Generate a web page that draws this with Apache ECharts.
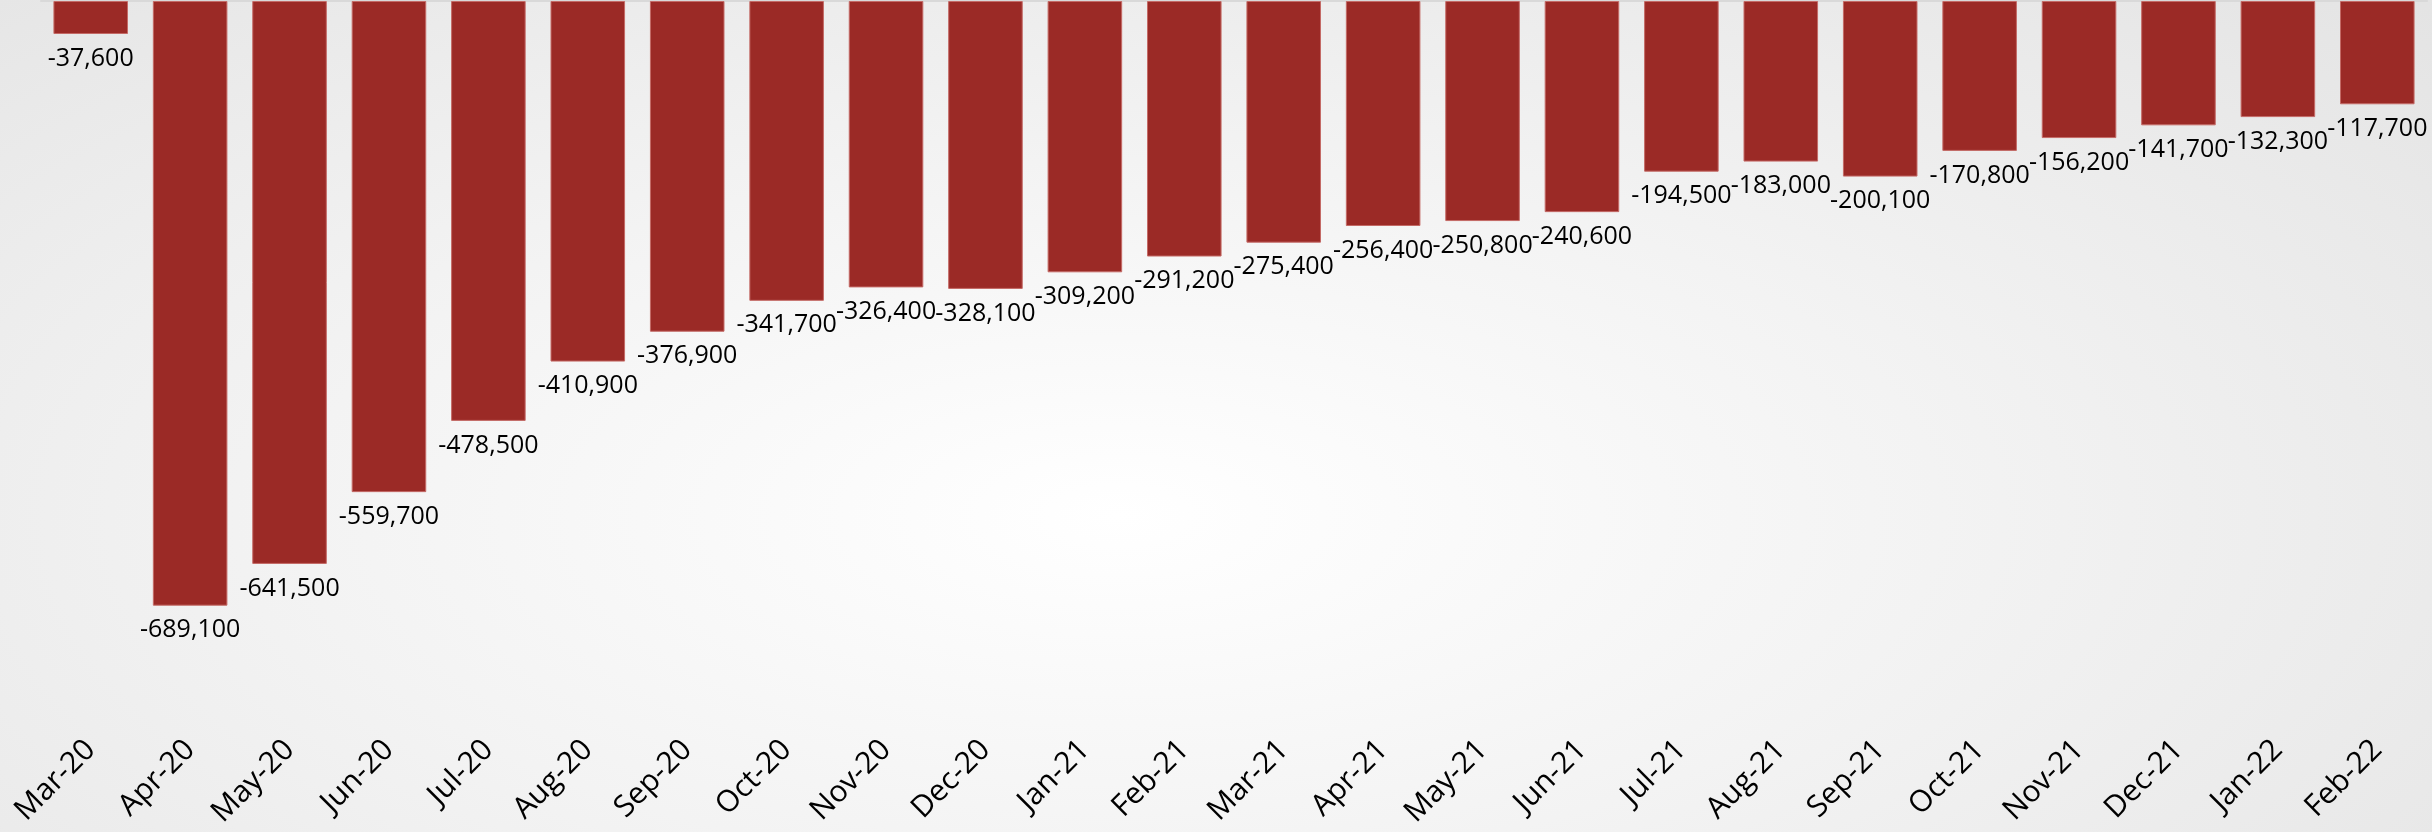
<!DOCTYPE html>
<html>
<head>
<meta charset="utf-8">
<script src="https://cdn.jsdelivr.net/npm/echarts@6/dist/echarts.min.js"></script>
<style>
  html, body { margin: 0; padding: 0; }
  body {
    width: 2432px; height: 832px;
    background: radial-gradient(ellipse 75% 95% at 46% 62%, #ffffff 0%, #f3f3f3 45%, #e3e3e3 100%);
  }
  #chart { width: 2432px; height: 832px; }
</style>
</head>
<body>
<div id="chart"></div>
<script>
// 月份
const months = ['Mar-20', 'Apr-20', 'May-20', 'Jun-20', 'Jul-20', 'Aug-20', 'Sep-20', 'Oct-20',
  'Nov-20', 'Dec-20', 'Jan-21', 'Feb-21', 'Mar-21', 'Apr-21', 'May-21', 'Jun-21',
  'Jul-21', 'Aug-21', 'Sep-21', 'Oct-21', 'Nov-21', 'Dec-21', 'Jan-22', 'Feb-22'];
// 数值
const values = [-37600, -689100, -641500, -559700, -478500, -410900, -376900, -341700,
  -326400, -328100, -309200, -291200, -275400, -256400, -250800, -240600,
  -194500, -183000, -200100, -170800, -156200, -141700, -132300, -117700];

const fontName = '"Open Sans", "DejaVu Sans", sans-serif';
const myechart = echarts.init(document.getElementById('chart'));

let option = {
  backgroundColor: 'transparent',
  animation: false,
  grid: { left: 41, right: 5, top: 1, bottom: 129, containLabel: false },
  xAxis: [
    {
      type: 'category',
      position: 'top',
      data: months,
      axisLine: { onZero: false, lineStyle: { color: '#d9d9d9', width: 2 } },
      axisTick: { show: false },
      axisLabel: { show: false }
    },
    {
      type: 'category',
      position: 'bottom',
      data: months,
      axisLine: { show: false },
      axisTick: { show: false },
      axisLabel: {
        rotate: 45,
        margin: 42,
        color: '#000',
        fontSize: 30,
        fontFamily: fontName
      }
    }
  ],
  yAxis: {
    type: 'value',
    min: -800000,
    max: 0,
    show: false,
    splitLine: { show: false }
  },
  series: [
    {
      type: 'bar',
      xAxisIndex: 0,
      data: values,
      barCategoryGap: '25%',
      itemStyle: { color: '#9b2a26', borderColor: '#c46a66', borderWidth: 1 },
      label: {
        show: true,
        position: 'bottom',
        distance: 12,
        color: '#000',
        fontSize: 25,
        fontFamily: fontName,
        formatter: p => p.value.toLocaleString('en-US')
      }
    }
  ]
};
myechart.setOption(option);
window.onresize = () => { myechart.resize() }
</script>
</body>
</html>
